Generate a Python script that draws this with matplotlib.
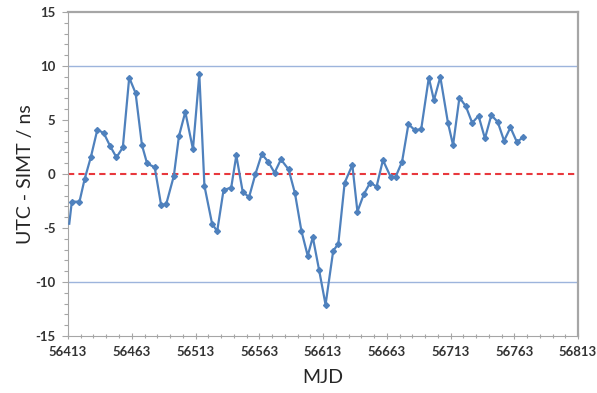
import matplotlib.pyplot as plt
from matplotlib.ticker import MultipleLocator

# MJD of each comparison and UTC - SIMT offset (ns)
mjd = [56414, 56416, 56422, 56426, 56431, 56436, 56441, 56446, 56451, 56456, 56461,
       56466, 56471, 56475, 56481, 56486, 56490, 56496, 56500, 56505, 56511,
       56516, 56520, 56526, 56530, 56535, 56541, 56545, 56550, 56555, 56560,
       56565, 56570, 56575, 56580, 56586, 56591, 56596, 56601, 56605, 56610,
       56615, 56621, 56625, 56630, 56636, 56640, 56645, 56650, 56655, 56660,
       56666, 56670, 56675, 56680, 56685, 56690, 56696, 56700, 56705, 56711,
       56715, 56720, 56725, 56730, 56735, 56740, 56745, 56750, 56755, 56760,
       56765, 56770]
offset = [-4.6, -2.56, -2.56, -0.49, 1.6, 4.1, 3.8, 2.6, 1.54, 2.46, 8.93,
          7.5, 2.68, 0.99, 0.62, -2.86, -2.8, -0.18, 3.5, 5.75, 2.3,
          9.23, -1.1, -4.6, -5.3, -1.48, -1.26, 1.72, -1.63, -2.15, 0.0,
          1.85, 1.14, 0.12, 1.35, 0.43, -1.78, -5.23, -7.57, -5.85, -8.93,
          -12.1, -7.11, -6.46, -0.8, 0.83, -3.48, -1.88, -0.8, -1.17, 1.29,
          -0.25, -0.25, 1.14, 4.62, 4.06, 4.15, 8.93, 6.83, 8.99, 4.74,
          2.68, 7.08, 6.28, 4.74, 5.39, 3.29, 5.45, 4.83, 3.08, 4.31,
          2.98, 3.39]
limit = 10

plt.rcParams['font.family'] = ['Lato', 'DejaVu Sans']
plt.rcParams['axes.unicode_minus'] = False

fig = plt.figure(figsize=(5.97, 3.93), dpi=100)
ax = fig.add_axes([0.1139, 0.145, 0.8543, 0.8244])

ax.axhline(limit, color="#9db4dc", lw=1.0, zorder=1)
ax.axhline(-limit, color="#9db4dc", lw=1.0, zorder=1)
ax.axhline(0, color="#e8383d", lw=1.5, ls=(0, (3, 2)), zorder=2)
ax.plot(mjd, offset, color="#4f81bd", lw=1.6, marker="D", markersize=3.0,
        markevery=slice(1, None), zorder=3)

ax.set_xlim(56413, 56813)
ax.set_ylim(-15, 15)
ax.set_xticks(range(56413, 56814, 50))
ax.set_xticklabels([str(v) for v in range(56413, 56814, 50)])
ax.xaxis.set_minor_locator(MultipleLocator(10, offset=3))
ax.yaxis.set_major_locator(MultipleLocator(5))
ax.yaxis.set_minor_locator(MultipleLocator(1))

for s in ax.spines.values():
    s.set_color("#a6a6a6")
ax.spines["top"].set_linewidth(1.6)
ax.spines["right"].set_linewidth(1.6)
ax.spines["left"].set_linewidth(0.8)
ax.spines["bottom"].set_linewidth(0.8)

ax.tick_params(which="both", direction="out", color="#a6a6a6", width=0.8,
               labelsize=9.5, labelcolor="#333333")
ax.tick_params(which="major", length=4, pad=5)
ax.tick_params(which="minor", length=3)
ax.tick_params(axis="x", which="both", direction="inout")
for lab in ax.get_xticklabels() + ax.get_yticklabels():
    lab.set_fontweight("bold")

ax.set_xlabel("MJD", fontsize=14, color="#262626", labelpad=8)
ax.set_ylabel("UTC - SIMT / ns", fontsize=14, color="#262626", labelpad=1)

fig.savefig("out.png", dpi=100)
